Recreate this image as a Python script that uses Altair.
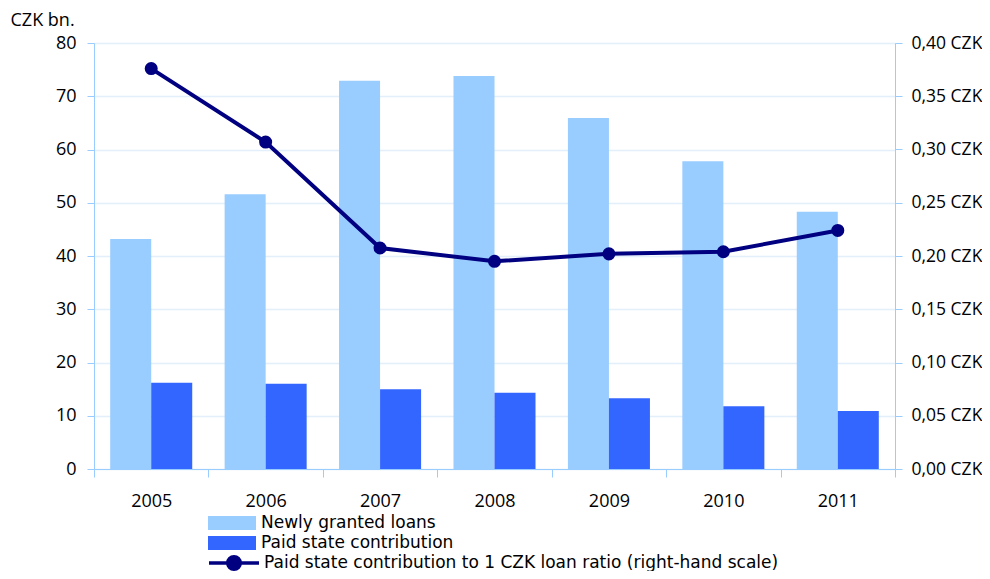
import altair as alt
import pandas as pd

years = ["2005", "2006", "2007", "2008", "2009", "2010", "2011"]
newly_granted = [43.2, 51.6, 72.9, 73.8, 65.9, 57.8, 48.3]
paid_contribution = [16.2, 16.0, 15.0, 14.3, 13.3, 11.8, 10.9]
ratio = [0.376, 0.307, 0.2075, 0.195, 0.202, 0.204, 0.224]

s_new = "Newly granted loans"
s_paid = "Paid state contribution"
s_ratio = "Paid state contribution to 1 CZK loan ratio (right-hand scale)"

bars_df = pd.DataFrame({
    "year": years * 2,
    "value": newly_granted + paid_contribution,
    "series": [s_new] * len(years) + [s_paid] * len(years),
})
line_df = pd.DataFrame({"year": years, "ratio": ratio, "series2": [s_ratio] * len(years)})

FONT = "Open Sans"
LFONT = "DejaVu Sans"
AX = "#99ccff"
GRID = "#e3effb"

x_enc = alt.X("year:N", title=None,
              scale=alt.Scale(paddingInner=0, paddingOuter=0),
              axis=alt.Axis(labelAngle=0, tickBand="extent", domainColor=AX, tickColor=AX,
                            tickSize=8, labelPadding=15, labelFontSize=18, labelFont=FONT,
                            labelColor="#000000"))

bars = alt.Chart(bars_df).mark_bar().encode(
    x=x_enc,
    xOffset=alt.XOffset("series:N", scale=alt.Scale(domain=[s_new, s_paid], paddingOuter=0.395, paddingInner=0)),
    y=alt.Y("value:Q", scale=alt.Scale(domain=[0, 80], nice=False),
            axis=alt.Axis(title="CZK bn.", values=list(range(0, 81, 10)), orient="left",
                          domainColor=AX, tickColor=AX, tickSize=7, labelPadding=11,
                          labelFontSize=18, labelFont=FONT, labelColor="#000000",
                          grid=True, gridColor=GRID, gridWidth=1.5,
                          titleAngle=0, titleAlign="left", titleBaseline="middle",
                          titleX=-84, titleY=-23, titleFontSize=18, titleFont=FONT,
                          titleFontWeight="normal", titleColor="#000000")),
    color=alt.Color("series:N", scale=alt.Scale(domain=[s_new, s_paid], range=["#99ccff", "#3366ff"]),
                    legend=alt.Legend(title=None, orient="none", legendX=114, legendY=470,
                                      symbolType="M-1,-0.29H1V0.29H-1Z", symbolSize=2304,
                                      symbolStrokeWidth=0, labelFont=LFONT, labelFontSize=17,
                                      labelColor="#000000", clipHeight=20, rowPadding=0,
                                      padding=0, labelOffset=5, labelLimit=0)),
)

line = alt.Chart(line_df).mark_line(strokeWidth=4, point=alt.OverlayMarkDef(size=170, filled=True, opacity=1)).encode(
    x=alt.X("year:N"),
    y=alt.Y("ratio:Q", scale=alt.Scale(domain=[0, 0.4], nice=False),
            axis=alt.Axis(title=None, orient="right", values=[i * 0.05 for i in range(9)],
                          labelExpr="replace(format(datum.value, '.2f'), '.', ',') + ' CZK'",
                          domainColor=AX, tickColor=AX, tickSize=7, labelPadding=9,
                          labelFontSize=17.5, labelFont=FONT, labelColor="#000000", grid=False)),
    color=alt.Color("series2:N", scale=alt.Scale(domain=[s_ratio], range=["#000080"]),
                    legend=alt.Legend(title=None, orient="none", legendX=113, legendY=510,
                                      symbolType="M-1,0H1M0.25,0A0.25,0.25 0 1,1 -0.25,0A0.25,0.25 0 1,1 0.25,0",
                                      symbolSize=2500, symbolStrokeWidth=3.5,
                                      symbolFillColor="#000080", symbolStrokeColor="#000080",
                                      labelFont=LFONT, labelFontSize=17, labelColor="#000000",
                                      clipHeight=20, padding=0, labelOffset=3, labelLimit=0)),
)

chart = alt.layer(bars, line).resolve_scale(y="independent", color="independent").properties(
    width=801, height=426,
    autosize=alt.AutoSizeParams(type="none"),
    padding={"left": 86, "top": 35, "right": 87, "bottom": 102},
).configure_view(stroke=AX, strokeWidth=1.5).configure(background="#ffffff")

chart.save("out.html", embed_options={"renderer": "svg", "actions": False})
